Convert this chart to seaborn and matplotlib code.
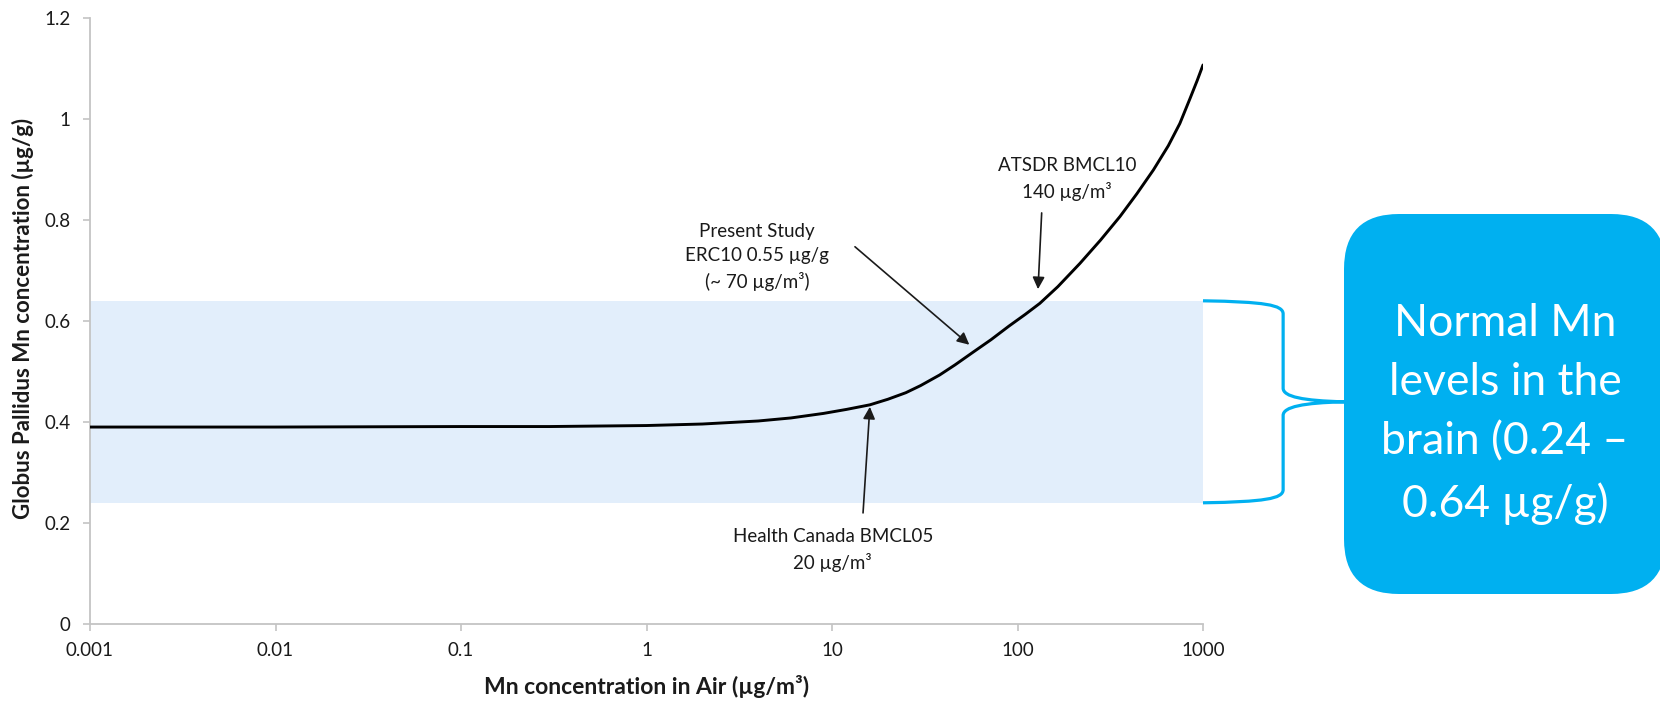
import matplotlib
matplotlib.use("Agg")
import matplotlib.pyplot as plt
from matplotlib.patches import FancyBboxPatch, PathPatch
from matplotlib.path import Path
from matplotlib.transforms import blended_transform_factory
import seaborn as sns

# Globus pallidus Mn vs. airborne Mn (model curve)
air_conc = [0.001, 0.01, 0.1, 0.3, 1, 2, 4, 6, 9, 12, 16, 20, 25, 30, 38,
            46, 58, 72, 90, 110, 132, 165, 217, 280, 357, 440, 540, 650,
            750, 850, 930, 1000]
gp_mn = [0.390, 0.390, 0.391, 0.391, 0.393, 0.396, 0.402, 0.408, 0.417,
         0.425, 0.434, 0.445, 0.458, 0.472, 0.493, 0.513, 0.539, 0.563,
         0.590, 0.613, 0.635, 0.668, 0.714, 0.760, 0.807, 0.852, 0.899,
         0.947, 0.991, 1.040, 1.076, 1.107]

x_ticks = [0.001, 0.01, 0.1, 1, 10, 100, 1000]
x_tick_labels = ["0.001", "0.01", "0.1", "1", "10", "100", "1000"]
y_ticks = [0, 0.2, 0.4, 0.6, 0.8, 1.0, 1.2]
y_tick_labels = ["0", "0.2", "0.4", "0.6", "0.8", "1", "1.2"]

normal_low, normal_high = 0.24, 0.64

note_texts = [
    "Present Study\nERC10 0.55 µg/g\n(~ 70 µg/m³)",
    "ATSDR BMCL10\n140 µg/m³",
    "Health Canada BMCL05\n20 µg/m³",
]

sns.set_theme(style="white")
plt.rcParams["font.family"] = ["Lato", "DejaVu Sans"]

W, H = 1660, 702
fig = plt.figure(figsize=(W / 100, H / 100), dpi=100)
ax = fig.add_axes([90 / W, 1 - 624 / H, 1113 / W, 606 / H])

# normal range band
ax.axhspan(normal_low, normal_high, color="#E2EEFB", lw=0, zorder=0)

sns.lineplot(x=air_conc, y=gp_mn, ax=ax, color="black", linewidth=2.1,
             estimator=None, zorder=3)

ax.set_xscale("log")
ax.set_xlim(0.001, 1000)
ax.set_ylim(0, 1.2)
ax.set_xticks(x_ticks, x_tick_labels)
ax.set_yticks(y_ticks, y_tick_labels)
ax.minorticks_off()

for side in ("top", "right"):
    ax.spines[side].set_visible(False)
for side in ("left", "bottom"):
    ax.spines[side].set_color("#C4C4C4")
    ax.spines[side].set_linewidth(1.3)

ax.tick_params(axis="both", which="major", bottom=True, left=True,
               direction="out", length=5, width=1.2, color="#C4C4C4",
               labelsize=13.5, labelcolor="#1a1a1a")
ax.tick_params(axis="y", pad=9)
ax.tick_params(axis="x", pad=8)

ax.set_xlabel("Mn concentration in Air (µg/m³)", fontsize=16.5,
              fontweight="bold", color="#1a1a1a")
ax.set_ylabel("Globus Pallidus Mn concentration (µg/g)", fontsize=16,
              fontweight="bold", color="#1a1a1a")
ax.xaxis.set_label_coords(0.5, -0.084)
ax.yaxis.set_label_coords(-0.050, 0.505)

# annotations: text centre, arrow tail, arrow tip (data coords)
notes = [
    (note_texts[0], (3.94, 0.727), (13.3, 0.747), (55.0, 0.553)),
    (note_texts[1], (185, 0.881), (135, 0.814), (129, 0.663)),
    (note_texts[2], (10.1, 0.147), (14.7, 0.220), (16.0, 0.430)),
]
for txt, tpos, tail, tip in notes:
    ax.text(tpos[0], tpos[1], txt, ha="center", va="center", fontsize=13.5,
            color="#1a1a1a", linespacing=1.5, zorder=4)
    ax.annotate("", xy=tip, xytext=tail,
                arrowprops=dict(arrowstyle="-|>", color="#1a1a1a", lw=1.2,
                                mutation_scale=18, shrinkA=0, shrinkB=0),
                zorder=4)

# curly brace beside the band (x in axes fraction, y in data units)
mid = (normal_low + normal_high) / 2
xv, xt = 1.072, 1.1267
verts = [
    (1.0, normal_high),
    (1.055, normal_high - 0.002), (xv, normal_high - 0.008), (xv, normal_high - 0.026),
    (xv, mid + 0.027),
    (xv, mid + 0.010), (1.09, mid + 0.002), (xt, mid),
    (1.09, mid - 0.002), (xv, mid - 0.010), (xv, mid - 0.027),
    (xv, normal_low + 0.026),
    (xv, normal_low + 0.008), (1.055, normal_low + 0.002), (1.0, normal_low),
]
codes = [Path.MOVETO,
         Path.CURVE4, Path.CURVE4, Path.CURVE4,
         Path.LINETO,
         Path.CURVE4, Path.CURVE4, Path.CURVE4,
         Path.CURVE4, Path.CURVE4, Path.CURVE4,
         Path.LINETO,
         Path.CURVE4, Path.CURVE4, Path.CURVE4]
brace_tr = blended_transform_factory(ax.transAxes, ax.transData)
ax.add_patch(PathPatch(Path(verts, codes), transform=brace_tr, fill=False,
                       edgecolor="#00B0F0", lw=2.3, clip_on=False,
                       capstyle="butt", joinstyle="round"))

# callout box in figure pixel space
ov = fig.add_axes([0, 0, 1, 1])
ov.set_xlim(0, W)
ov.set_ylim(H, 0)
ov.axis("off")
ov.patch.set_alpha(0)
ov.add_patch(FancyBboxPatch((1344, 214), 322, 380,
                            boxstyle="round,pad=0,rounding_size=55",
                            facecolor="#00B0F0", edgecolor="none"))
ov.text(1505, 414,
        f"Normal Mn\nlevels in the\nbrain ({normal_low:.2f} –\n{normal_high:.2f} µg/g)",
        ha="center", va="center", color="white", fontsize=32,
        linespacing=1.55)

fig.savefig("out.png", dpi=100)
